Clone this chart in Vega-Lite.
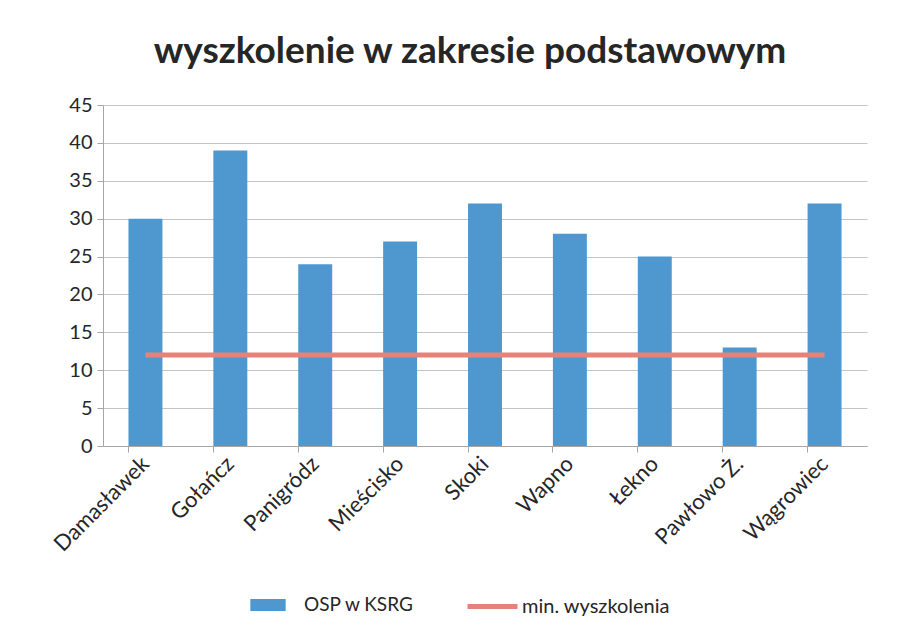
{
  "$schema": "https://vega.github.io/schema/vega-lite/v6.json",
  "width": 764,
  "height": 341,
  "autosize": "none",
  "padding": {"left": 103, "top": 105, "right": 45, "bottom": 182},
  "background": "white",
  "config": {
    "font": "Lato",
    "view": {"stroke": null},
    "axis": {"labelFont": "Lato", "labelColor": "#262626", "labelFontSize": 19, "titleFontSize": 14}
  },
  "title": {
    "text": "wyszkolenie w zakresie podstawowym",
    "font": "Lato",
    "fontSize": 37,
    "fontWeight": "bold",
    "color": "#262626",
    "anchor": "middle",
    "dx": -15,
    "offset": 24
  },
  "data": {
    "values": [
      {"gmina": "Damasławek", "osp": 30, "min": 12},
      {"gmina": "Gołańcz", "osp": 39, "min": 12},
      {"gmina": "Panigródz", "osp": 24, "min": 12},
      {"gmina": "Mieścisko", "osp": 27, "min": 12},
      {"gmina": "Skoki", "osp": 32, "min": 12},
      {"gmina": "Wapno", "osp": 28, "min": 12},
      {"gmina": "Łekno", "osp": 25, "min": 12},
      {"gmina": "Pawłowo Ż.", "osp": 13, "min": 12},
      {"gmina": "Wągrowiec", "osp": 32, "min": 12}
    ]
  },
  "encoding": {
    "x": {
      "field": "gmina",
      "type": "nominal",
      "sort": null,
      "title": null,
      "scale": {"paddingInner": 0.6, "paddingOuter": 0.3},
      "axis": {
        "labelAngle": -45,
        "labelAlign": "right",
        "labelBaseline": "middle",
        "labelPadding": 8,
        "labelFontSize": 22,
        "labelOverlap": false,
        "bandPosition": 0,
        "domainColor": "#A6A6A6",
        "tickColor": "#A6A6A6",
        "tickSize": 6,
        "grid": false
      }
    }
  },
  "layer": [
    {
      "mark": {"type": "bar", "stroke": null},
      "encoding": {
        "y": {
          "field": "osp",
          "type": "quantitative",
          "title": null,
          "scale": {"domain": [0, 45], "nice": false},
          "axis": {
            "values": [0, 5, 10, 15, 20, 25, 30, 35, 40, 45],
            "labelOverlap": false,
            "labelFontSize": 20,
            "gridColor": "#C4C4C4",
            "domainColor": "#A6A6A6",
            "tickColor": "#A6A6A6",
            "tickSize": 6,
            "labelPadding": 5
          }
        },
        "fill": {
          "datum": "OSP w KSRG",
          "scale": {"range": ["#4F98CF"]},
          "legend": {
            "orient": "none",
            "legendX": 147,
            "legendY": 482,
            "title": null,
            "symbolType": "M-1,-0.34H1V0.34H-1Z",
            "symbolSize": 1250,
            "symbolStrokeWidth": 0,
            "labelFontSize": 19,
            "labelFont": "Lato",
            "labelColor": "#262626",
            "padding": 0,
            "labelOffset": 18
          }
        }
      }
    },
    {
      "mark": {"type": "line", "strokeWidth": 5},
      "encoding": {
        "y": {
          "field": "min",
          "type": "quantitative",
          "title": null,
          "axis": {
            "values": [0, 5, 10, 15, 20, 25, 30, 35, 40, 45],
            "labelOverlap": false,
            "labelFontSize": 20,
            "gridColor": "#C4C4C4",
            "domainColor": "#A6A6A6",
            "tickColor": "#A6A6A6",
            "tickSize": 6,
            "labelPadding": 5
          }
        },
        "stroke": {
          "datum": "min. wyszkolenia",
          "scale": {"range": ["#E5837A"]},
          "legend": {
            "orient": "none",
            "legendX": 362,
            "legendY": 474,
            "title": null,
            "symbolType": "stroke",
            "symbolSize": 2500,
            "symbolStrokeWidth": 5,
            "labelFontSize": 20,
            "labelFont": "Lato",
            "labelColor": "#262626",
            "padding": 0,
            "labelOffset": 2
          }
        }
      }
    }
  ]
}
